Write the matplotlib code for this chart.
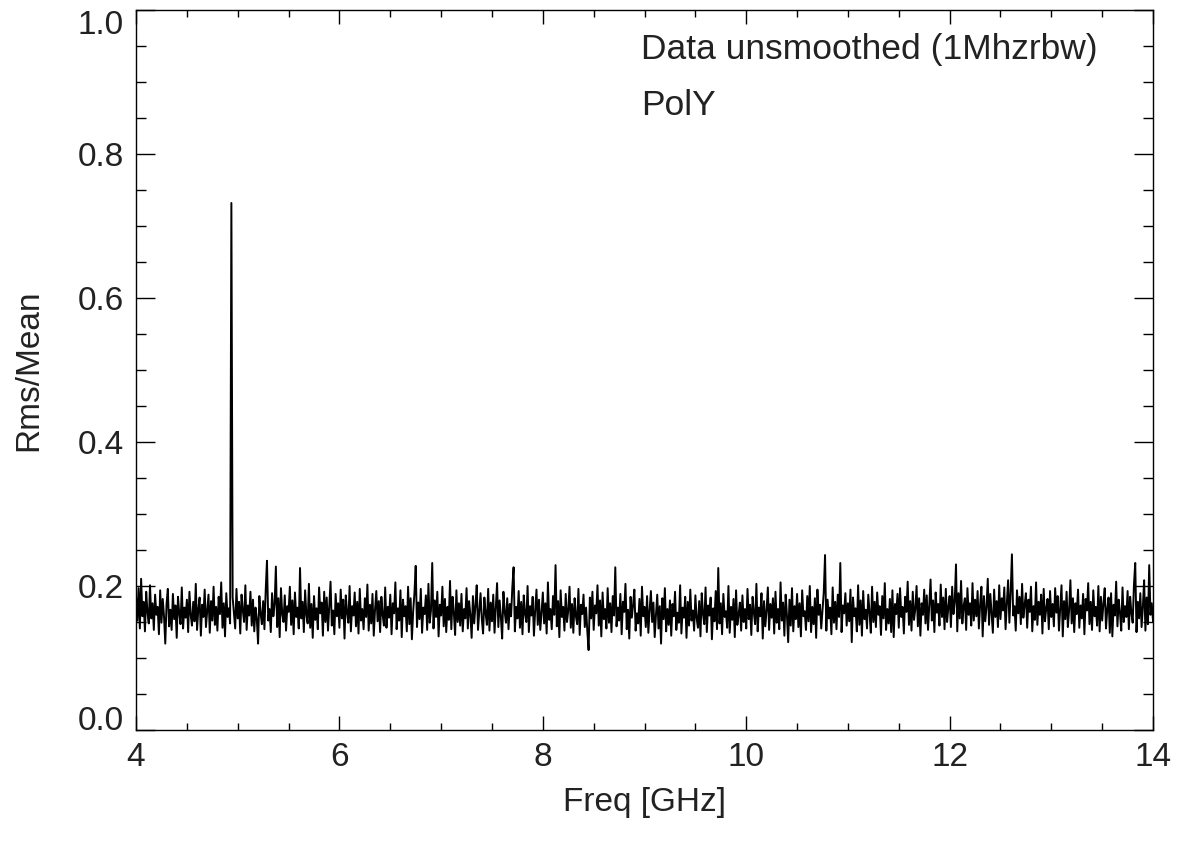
import numpy as np
import matplotlib
matplotlib.use("Agg")
import matplotlib.pyplot as plt
from matplotlib.ticker import MultipleLocator

# spectrum: 4-14 GHz, Rms/Mean in thousandths
freq_start = 4.0
freq_stop = 14.0
rms_mean_milli = [
    186, 152, 197, 141, 210, 158, 178, 137, 192, 163, 148, 201, 155, 176, 139, 188, 160, 171, 133, 194,
    149, 182, 158, 120, 175, 196, 144, 167, 139, 189, 154, 173, 128, 185, 162, 147, 198, 141, 170, 156,
    181, 136, 192, 160, 145, 178, 151, 203, 139, 168, 184, 131, 174, 157, 195, 143, 166, 188, 135, 179,
    152, 199, 146, 171, 138, 185, 161, 205, 142, 176, 130, 190, 157, 169, 148, 732, 184, 163, 141, 196,
    155, 178, 134, 188, 166, 150, 201, 139, 173, 159, 192, 145, 181, 137, 170, 154, 120, 186, 162, 147,
    179, 140, 194, 235, 152, 168, 136, 190, 158, 174, 227, 143, 183, 129, 197, 161, 150, 187, 138, 172,
    164, 199, 146, 180, 133, 191, 157, 170, 141, 225, 155, 178, 136, 194, 160, 148, 203, 142, 175, 128,
    186, 153, 169, 140, 198, 162, 177, 131, 192, 150, 184, 138, 171, 206, 145, 166, 133, 189, 158, 176,
    142, 195, 155, 181, 127, 187, 163, 149, 200, 137, 172, 159, 191, 144, 178, 134, 196, 152, 168, 140,
    183, 157, 202, 138, 174, 148, 189, 131, 167, 193, 151, 179, 136, 185, 160, 145, 198, 142, 171, 156,
    188, 133, 176, 162, 205, 140, 169, 152, 194, 129, 181, 158, 172, 137, 199, 147, 183, 126, 165, 190,
    228, 143, 177, 154, 196, 135, 170, 161, 187, 139, 203, 149, 166, 232, 141, 180, 157, 192, 130, 174,
    159, 199, 144, 182, 136, 171, 153, 207, 140, 185, 163, 132, 194, 150, 176, 145, 189, 137, 168, 155,
    197, 141, 179, 160, 128, 186, 148, 173, 201, 139, 165, 190, 154, 134, 184, 162, 146, 196, 138, 177,
    151, 188, 135, 169, 204, 143, 180, 157, 127, 192, 164, 149, 183, 140, 175, 158, 198, 226, 137, 171,
    155, 193, 142, 178, 133, 187, 161, 150, 200, 136, 172, 159, 185, 131, 167, 195, 146, 181, 139, 163,
    191, 148, 176, 134, 205, 153, 168, 140, 186, 160, 229, 144, 179, 129, 194, 157, 171, 138, 189, 150,
    166, 199, 142, 175, 135, 183, 158, 147, 196, 132, 174, 161, 188, 143, 170, 137, 111, 184, 155, 192,
    139, 173, 162, 201, 145, 180, 130, 191, 154, 168, 141, 197, 149, 176, 136, 186, 159, 226, 144, 170,
    152, 189, 133, 178, 164, 203, 140, 167, 127, 185, 156, 174, 195, 138, 162, 148, 182, 131, 199, 158,
    171, 143, 186, 135, 166, 193, 150, 177, 129, 160, 188, 141, 172, 120, 183, 154, 197, 137, 168, 146,
    180, 131, 175, 158, 192, 139, 163, 149, 201, 134, 170, 156, 185, 128, 178, 145, 195, 152, 166, 138,
    187, 155, 142, 179, 130, 190, 161, 147, 198, 136, 173, 159, 184, 126, 169, 151, 193, 140, 225, 148,
    176, 133, 189, 157, 165, 142, 200, 135, 171, 153, 182, 129, 194, 146, 160, 177, 138, 187, 150, 168,
    141, 196, 154, 174, 132, 185, 163, 147, 203, 137, 170, 158, 190, 127, 179, 144, 166, 198, 139, 175,
    156, 183, 134, 192, 149, 168, 140, 205, 152, 177, 131, 188, 160, 122, 181, 145, 197, 137, 172, 154,
    189, 143, 176, 130, 194, 158, 165, 139, 186, 151, 200, 136, 171, 147, 183, 128, 195, 160, 174, 141,
    167, 192, 243, 138, 181, 155, 170, 133, 198, 149, 178, 140, 188, 157, 232, 136, 173, 162, 190, 145,
    176, 151, 195, 122, 184, 158, 169, 137, 201, 146, 180, 131, 193, 154, 167, 141, 188, 163, 135, 199,
    150, 178, 143, 191, 160, 172, 132, 186, 155, 204, 139, 168, 148, 182, 136, 194, 129, 175, 161, 189,
    142, 197, 157, 171, 134, 185, 164, 206, 146, 179, 138, 192, 153, 168, 200, 144, 183, 131, 176, 160,
    195, 148, 187, 139, 173, 209, 152, 180, 136, 191, 163, 175, 145, 202, 157, 184, 140, 196, 150, 171,
    186, 143, 199, 161, 178, 230, 137, 190, 155, 207, 148, 172, 183, 139, 197, 160, 176, 145, 204, 152,
    181, 158, 193, 141, 174, 199, 130, 186, 151, 170, 210, 146, 189, 163, 135, 195, 157, 179, 143, 201,
    154, 183, 166, 198, 140, 176, 208, 149, 191, 244, 159, 172, 138, 194, 162, 185, 147, 203, 156, 174,
    190, 142, 181, 164, 199, 137, 172, 153, 205, 146, 178, 160, 188, 134, 196, 151, 169, 182, 140, 193,
    157, 175, 144, 197, 163, 186, 138, 170, 201, 130, 179, 154, 192, 143, 167, 208, 148, 183, 136, 176,
    161, 195, 142, 173, 155, 189, 133, 182, 166, 204, 147, 178, 139, 194, 158, 171, 145, 200, 137, 185,
    152, 176, 197, 141, 168, 184, 135, 190, 130, 174, 159, 206, 144, 181, 163, 138, 198, 150, 172, 157,
    193, 140, 185, 162, 149, 202, 232, 136, 178, 155, 190, 143, 171, 208, 138, 184, 147, 229, 160, 176,
    151,
]

x_ticks = [4, 6, 8, 10, 12, 14]
y_ticks = [0.0, 0.2, 0.4, 0.6, 0.8, 1.0]
y_tick_labels = ["0.0", "0.2", "0.4", "0.6", "0.8", "1.0"]

plt.rcParams["font.family"] = ["Liberation Sans", "DejaVu Sans"]
text_col = "#222222"

freq = np.linspace(freq_start, freq_stop, len(rms_mean_milli))
rms = np.array(rms_mean_milli) / 1000.0

fig = plt.figure(figsize=(11.86, 8.56), dpi=100)
ax = fig.add_axes([0.1147, 0.1472, 0.8575, 0.8411])
ax.plot(freq, rms, color="black", linewidth=1.4)

ax.set_xlim(4, 14)
ax.set_ylim(0, 1.0)
ax.set_xticks(x_ticks)
ax.set_yticks(y_ticks)
ax.set_yticklabels(y_tick_labels)
ax.xaxis.set_minor_locator(MultipleLocator(0.5))
ax.yaxis.set_minor_locator(MultipleLocator(0.05))

ax.tick_params(axis="both", which="both", direction="in", top=True, right=True,
               labelsize=24, labelcolor=text_col, width=1.0)
ax.tick_params(axis="x", which="major", length=10, pad=9)
ax.tick_params(axis="x", which="minor", length=5)
ax.tick_params(axis="y", which="major", length=14, pad=9)
ax.tick_params(axis="y", which="minor", length=7)
for s in ax.spines.values():
    s.set_linewidth(1.0)

# IDL keeps the end labels inside the axis span
ylabs = ax.get_yticklabels()
ylabs[0].set_verticalalignment("baseline")
ylabs[-1].set_verticalalignment("top")

ax.set_xlabel("Freq [GHz]", fontsize=24, color=text_col, labelpad=10)
ax.set_ylabel("Rms/Mean", fontsize=24, color=text_col, labelpad=24)

ax.text(0.497, 0.945, "Data unsmoothed (1Mhzrbw)", transform=ax.transAxes,
        fontsize=25.5, color=text_col, va="center", ha="left")
ax.text(0.497, 0.867, "PolY", transform=ax.transAxes,
        fontsize=25.5, color=text_col, va="center", ha="left")

fig.savefig("out.png", dpi=100)
